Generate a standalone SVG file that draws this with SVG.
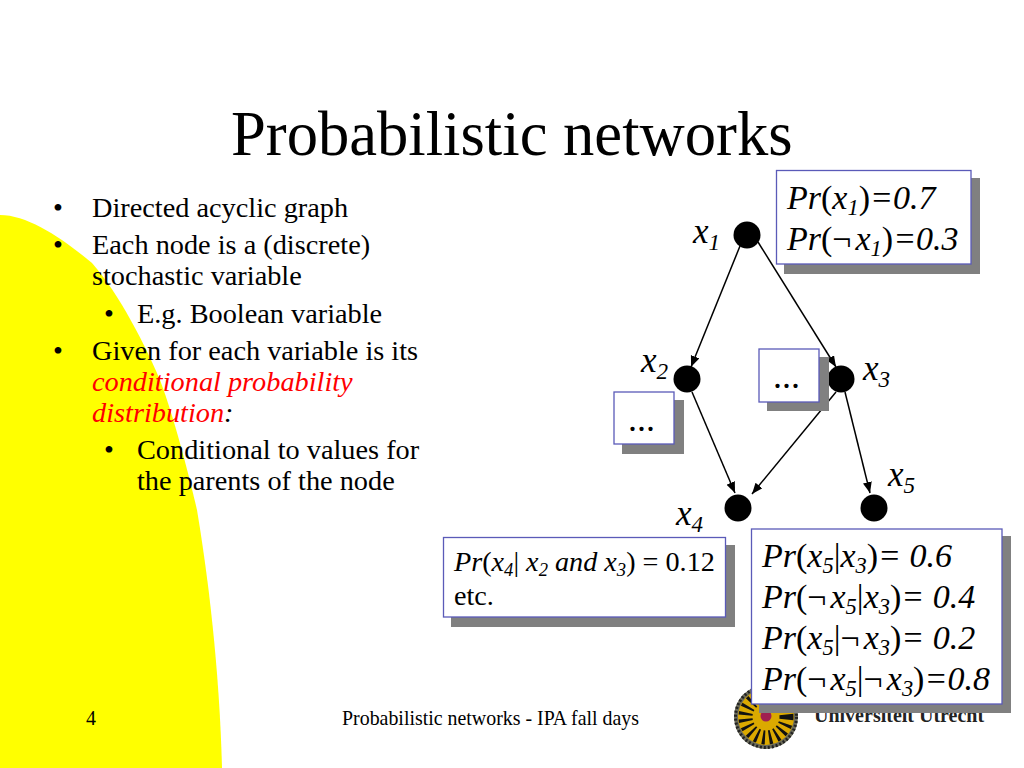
<svg xmlns="http://www.w3.org/2000/svg" width="1024" height="768" viewBox="0 0 1024 768">
<style>
text{font-family:"Liberation Serif","Times New Roman",serif;fill:#000}
.i{font-style:italic}
.s{font-size:66%;font-style:italic}
.title{font-size:62.6px}
.b{font-size:28.3px}
.f{font-size:19.9px}
.d{font-size:36px}
.box{fill:#fff;stroke:#5a5ab8;stroke-width:1.3}
.sh{fill:#808080}
.n{fill:#000}
.c{stroke:#000;stroke-width:1.5;fill:none;marker-end:url(#a)}
.p{font-size:34px}
.q{font-size:34px}
.l{font-size:28.2px}
.v{font-size:35px}
.r{fill:#f00;font-style:italic}
</style>
<defs><marker id="a" markerUnits="userSpaceOnUse" markerWidth="12" markerHeight="10" refX="11" refY="4.5" orient="auto"><path d="M0 0L11 4.5L0 9Z" fill="#000"/></marker></defs>
<rect width="1024" height="768" fill="#fff"/>
<path id="bg" d="M0 215C28 215 62 238 92 263C120 295 145 345 160 380C175 420 190 480 197 510C212 600 220 690 222 768H0Z" fill="#ff0"/>
<text class="title" x="231" y="155">Probabilistic networks</text>
<g id="bullets" class="b">
<text x="53" y="217">•</text><text x="92" y="217">Directed acyclic graph</text>
<text x="53" y="254">•</text><text x="92" y="254">Each node is a (discrete)</text>
<text x="92" y="285">stochastic variable</text>
<text x="104" y="323">•</text><text x="137" y="323">E.g. Boolean variable</text>
<text x="53" y="360">•</text><text x="92" y="360">Given for each variable is its</text>
<text x="92" y="391" class="r">conditional probability</text>
<text x="92" y="422"><tspan class="r">distribution</tspan><tspan class="i">:</tspan></text>
<text x="104" y="459">•</text><text x="137" y="459">Conditional to values for</text>
<text x="137" y="490">the parents of the node</text>
</g>
<g id="footer" class="f">
<text x="86" y="725">4</text>
<text x="342" y="725">Probabilistic networks - IPA fall days</text>
</g>
<g id="logo">
<circle cx="766" cy="717" r="32" fill="#6b6b5a"/>
<circle cx="766" cy="717" r="30.500" fill="none" stroke="#222" stroke-width="3" stroke-dasharray="2 2"/>
<circle cx="766" cy="717" r="28" fill="#dba900"/>
<circle cx="766" cy="717" r="20.500" fill="none" stroke="#111" stroke-width="14" stroke-dasharray="2.600 4"/>
<circle cx="766" cy="717" r="13" fill="#dba900"/>
<circle cx="766" cy="716" r="5.500" fill="#a02050"/>
<text x="814" y="722" style="font-size:20px;font-weight:bold;fill:#222">Universiteit Utrecht</text>
</g>
<g id="connectors">
<line class="c" x1="740" y1="246" x2="691" y2="367"/>
<line class="c" x1="758" y1="242" x2="836" y2="367"/>
<line class="c" x1="692" y1="392" x2="735" y2="493"/>
<line class="c" x1="836" y1="392" x2="752" y2="494"/>
<line class="c" x1="845" y1="392" x2="870" y2="493"/>
</g>
<g id="x1"><circle class="n" cx="747" cy="235" r="13.5"/><text class="v i" x="693" y="243">x<tspan class="s" dy="7">1</tspan></text></g>
<g id="x2"><circle class="n" cx="687" cy="379" r="13.5"/><text class="v i" x="641" y="372">x<tspan class="s" dy="7">2</tspan></text></g>
<g id="x3"><circle class="n" cx="841" cy="379" r="13.5"/><text class="v i" x="863" y="380">x<tspan class="s" dy="7">3</tspan></text></g>
<g id="x4"><circle class="n" cx="738" cy="508" r="13.5"/><text class="v i" x="676" y="525">x<tspan class="s" dy="7">4</tspan></text></g>
<g id="x5"><circle class="n" cx="874" cy="508" r="13.5"/><text class="v i" x="888" y="486">x<tspan class="s" dy="7">5</tspan></text></g>
<g id="dots3"><rect class="sh" x="767" y="357" width="62" height="54"/><rect class="box" x="759" y="349" width="60" height="53"/><text class="d" x="773" y="388">...</text></g>
<g id="dots2"><rect class="sh" x="622" y="400" width="62" height="54"/><rect class="box" x="614" y="392" width="60" height="52"/><text class="d" x="628" y="431">...</text></g>
<g id="prx1"><rect class="sh" x="784" y="178" width="196" height="96"/><rect class="box" x="776.500" y="170.500" width="194.500" height="93.500"/>
<text class="p" x="787" y="209"><tspan class="i">Pr</tspan>(<tspan class="i">x</tspan><tspan class="s" dy="6">1</tspan><tspan dy="-6">)</tspan><tspan class="i">=0.7</tspan></text>
<text class="p" x="787" y="250"><tspan class="i">Pr</tspan>(¬<tspan class="i" dx="4">x</tspan><tspan class="s" dy="6">1</tspan><tspan dy="-6">)</tspan><tspan class="i">=0.3</tspan></text></g>
<g id="prx4"><rect class="sh" x="451" y="545" width="284" height="82"/><rect class="box" x="443.500" y="537.500" width="282" height="79.500"/>
<text class="l" x="454" y="571"><tspan class="i">Pr</tspan>(<tspan class="i">x</tspan><tspan class="s" dy="5">4</tspan><tspan dy="-5">|</tspan><tspan class="i"> x</tspan><tspan class="s" dy="5">2</tspan><tspan class="i" dy="-5"> and x</tspan><tspan class="s" dy="5">3</tspan><tspan dy="-5">) = 0.12</tspan></text>
<text class="l" x="454" y="605">etc.</text></g>
<g id="prx5"><rect class="sh" x="759" y="536" width="252" height="177"/><rect class="box" x="751.500" y="529" width="250.500" height="175"/>
<text class="q" x="762" y="567"><tspan class="i">Pr</tspan>(<tspan class="i">x</tspan><tspan class="s" dy="6">5</tspan><tspan dy="-6">|</tspan><tspan class="i">x</tspan><tspan class="s" dy="6">3</tspan><tspan dy="-6">)</tspan><tspan class="i">= 0.6</tspan></text>
<text class="q" x="762" y="608"><tspan class="i">Pr</tspan>(¬<tspan class="i" dx="4">x</tspan><tspan class="s" dy="6">5</tspan><tspan dy="-6">|</tspan><tspan class="i">x</tspan><tspan class="s" dy="6">3</tspan><tspan dy="-6">)</tspan><tspan class="i">= 0.4</tspan></text>
<text class="q" x="762" y="649"><tspan class="i">Pr</tspan>(<tspan class="i">x</tspan><tspan class="s" dy="6">5</tspan><tspan dy="-6">|¬</tspan><tspan class="i" dx="4">x</tspan><tspan class="s" dy="6">3</tspan><tspan dy="-6">)</tspan><tspan class="i">= 0.2</tspan></text>
<text class="q" x="762" y="690"><tspan class="i">Pr</tspan>(¬<tspan class="i" dx="4">x</tspan><tspan class="s" dy="6">5</tspan><tspan dy="-6">|¬</tspan><tspan class="i" dx="4">x</tspan><tspan class="s" dy="6">3</tspan><tspan dy="-6">)</tspan><tspan class="i">=0.8</tspan></text></g>
</svg>
